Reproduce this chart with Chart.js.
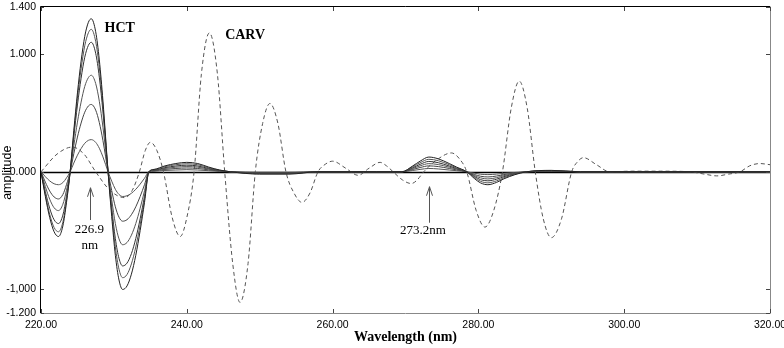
<!DOCTYPE html>
<html><head><meta charset="utf-8">
<script src="https://cdn.jsdelivr.net/npm/chart.js@4.4.0/dist/chart.umd.min.js"></script>
<style>html,body{margin:0;padding:0;background:#fff;}#wrap{width:784px;height:348px;}</style>
</head><body><div id="wrap"><canvas id="c" width="784" height="348"></canvas></div>
<script>
// ---- data ----
const hctWavelengths = [220, 220.6, 221.2, 221.8, 222.4, 223, 223.5, 224, 224.5, 225, 225.5, 226, 226.5, 226.9, 227.5, 228, 228.5, 229.2, 229.7, 230.2, 230.7, 231.2, 231.8, 232.4, 233, 233.6, 234.2, 234.8, 235.5, 237, 238.5, 240, 241.5, 243, 244.5, 246, 250, 254, 258, 266, 269.5, 271, 272, 273.2, 274.5, 276, 277, 278.4, 279.5, 280.3, 281.3, 282.5, 283.5, 285, 286.6, 290, 294, 320];
const hct1 = [0, -0.21, -0.39, -0.51, -0.55, -0.46, -0.26, 0, 0.35, 0.67, 0.94, 1.15, 1.27, 1.30, 1.19, 0.95, 0.60, 0, -0.38, -0.71, -0.92, -1.00, -0.97, -0.87, -0.71, -0.50, -0.26, 0, 0.02, 0.05, 0.07, 0.08, 0.07, 0.04, 0.015, 0, -0.02, -0.02, 0, 0, 0, 0.05, 0.09, 0.125, 0.11, 0.07, 0.04, 0, -0.06, -0.095, -0.11, -0.09, -0.06, -0.025, 0, 0.012, 0, 0];
const hct2 = [0, -0.195, -0.363, -0.474, -0.51, -0.428, -0.242, 0, 0.326, 0.623, 0.874, 1.07, 1.181, 1.21, 1.107, 0.884, 0.558, 0, -0.342, -0.639, -0.828, -0.90, -0.873, -0.783, -0.639, -0.45, -0.234, 0, 0.017, 0.043, 0.06, 0.068, 0.06, 0.034, 0.013, 0, -0.017, -0.017, 0, 0, 0, 0.043, 0.077, 0.106, 0.094, 0.06, 0.034, 0, -0.051, -0.081, -0.094, -0.077, -0.051, -0.021, 0, 0.01, 0, 0];
const hct3 = [0, -0.168, -0.312, -0.408, -0.44, -0.368, -0.208, 0, 0.296, 0.567, 0.795, 0.973, 1.074, 1.10, 1.007, 0.804, 0.508, 0, -0.304, -0.568, -0.736, -0.80, -0.776, -0.696, -0.568, -0.40, -0.208, 0, 0.014, 0.035, 0.049, 0.056, 0.049, 0.028, 0.011, 0, -0.014, -0.014, 0, 0, 0, 0.035, 0.063, 0.088, 0.077, 0.049, 0.028, 0, -0.042, -0.067, -0.077, -0.063, -0.042, -0.018, 0, 0.008, 0, 0];
const hct4 = [0, -0.126, -0.234, -0.306, -0.33, -0.276, -0.156, 0, 0.221, 0.422, 0.592, 0.725, 0.80, 0.82, 0.75, 0.599, 0.378, 0, -0.236, -0.44, -0.57, -0.62, -0.601, -0.539, -0.44, -0.31, -0.161, 0, 0.011, 0.028, 0.039, 0.044, 0.039, 0.022, 0.008, 0, -0.011, -0.011, 0, 0, 0, 0.028, 0.05, 0.069, 0.061, 0.039, 0.022, 0, -0.033, -0.052, -0.061, -0.05, -0.033, -0.014, 0, 0.007, 0, 0];
const hct5 = [0, -0.088, -0.164, -0.214, -0.231, -0.193, -0.109, 0, 0.154, 0.295, 0.414, 0.506, 0.559, 0.572, 0.524, 0.418, 0.264, 0, -0.16, -0.298, -0.386, -0.42, -0.407, -0.365, -0.298, -0.21, -0.109, 0, 0.008, 0.02, 0.028, 0.032, 0.028, 0.016, 0.006, 0, -0.008, -0.008, 0, 0, 0, 0.02, 0.036, 0.05, 0.044, 0.028, 0.016, 0, -0.024, -0.038, -0.044, -0.036, -0.024, -0.01, 0, 0.005, 0, 0];
const hct6 = [0, -0.042, -0.078, -0.102, -0.11, -0.092, -0.052, 0, 0.074, 0.141, 0.197, 0.242, 0.267, 0.273, 0.25, 0.2, 0.126, 0, -0.08, -0.149, -0.193, -0.21, -0.204, -0.183, -0.149, -0.105, -0.055, 0, 0.004, 0.011, 0.015, 0.018, 0.015, 0.009, 0.003, 0, -0.004, -0.004, 0, 0, 0, 0.011, 0.02, 0.028, 0.024, 0.015, 0.009, 0, -0.013, -0.021, -0.024, -0.02, -0.013, -0.006, 0, 0.003, 0, 0];
const carvWavelengths = [220, 222.2, 224.3, 225.9, 227.5, 229.5, 231.5, 232.5, 233.5, 234.3, 235.0, 235.9, 236.8, 238.0, 239.1, 240.0, 241.0, 242.0, 243.1, 244.2, 245.2, 246.3, 247.3, 248.4, 249.4, 250.4, 251.4, 252.5, 253.6, 254.7, 255.8, 256.9, 258.0, 259.0, 260.0, 261.8, 263.5, 265.0, 266.5, 267.4, 268.3, 269.6, 270.8, 271.6, 272.5, 274.5, 276.3, 277.4, 278.4, 279.7, 280.9, 282.1, 283.3, 284.5, 285.6, 286.7, 287.8, 288.9, 290.0, 291.4, 292.8, 293.6, 294.4, 296.2, 298.0, 301, 305, 309, 311, 312.7, 314.3, 315.9, 317.2, 318.6, 320];
const carvValues = [0, 0.15, 0.21, 0.15, 0, -0.16, -0.22, -0.16, 0, 0.18, 0.25, 0.18, 0, -0.39, -0.55, -0.39, 0, 0.83, 1.18, 0.83, 0, -0.78, -1.11, -0.78, 0, 0.41, 0.58, 0.41, 0, -0.18, -0.26, -0.18, 0, 0.064, 0.09, 0.03, -0.03, 0.03, 0.08, 0.05, 0, -0.07, -0.10, -0.07, 0, 0.11, 0.16, 0.11, 0, -0.33, -0.47, -0.33, 0, 0.54, 0.77, 0.54, 0, -0.40, -0.56, -0.40, 0, 0.085, 0.12, 0.06, 0, 0.005, 0.005, 0, -0.02, -0.035, -0.02, 0, 0.05, 0.07, 0.06];
const xTicks = [220, 240, 260, 280, 300, 320];
const xTickLabels = ['220.00', '240.00', '260.00', '280.00', '300.00', '320.00'];
const yTicks = [-1.2, -1.0, 0, 1.0, 1.4];
const yTickLabels = ['-1.200', '-1,000', '0.000', '1.000', '1.400'];
const hctSeries = [hct1, hct2, hct3, hct4, hct5, hct6];

// ---- build datasets ----
const toPts = (xs, ys) => xs.map((x, i) => ({x: x, y: ys[i]}));
const hctColors = ['#222', '#555', '#333', '#555', '#444', '#555'];
const datasets = hctSeries.map((s, i) => ({
  label: 'HCT ' + (i + 1), data: toPts(hctWavelengths, s),
  borderColor: hctColors[i], borderWidth: 1, pointRadius: 0, fill: false,
  cubicInterpolationMode: 'monotone'
}));
datasets.push({
  label: 'CARV', data: toPts(carvWavelengths, carvValues),
  borderColor: '#555', borderWidth: 1, borderDash: [4, 3], pointRadius: 0, fill: false,
  cubicInterpolationMode: 'monotone'
});

const deco = {
  id: 'deco',
  beforeDatasetsDraw(chart) {
    const {ctx, chartArea: a, scales: {y}} = chart;
    const y0 = Math.round(y.getPixelForValue(0)) + 0.5;
    ctx.save();
    ctx.strokeStyle = '#000'; ctx.lineWidth = 1.6;
    ctx.beginPath(); ctx.moveTo(a.left, y0); ctx.lineTo(a.right, y0); ctx.stroke();
    ctx.restore();
  },
  afterDraw(chart) {
    const {ctx, chartArea: a, scales: {x, y}} = chart;
    ctx.save();
    ctx.lineWidth = 1;
    // frame
    ctx.strokeStyle = '#000';
    ctx.beginPath(); ctx.moveTo(a.left - 0.5, a.top - 0.5); ctx.lineTo(a.right, a.top - 0.5); ctx.stroke();
    ctx.beginPath(); ctx.moveTo(a.left - 0.5, a.top - 0.5); ctx.lineTo(a.left - 0.5, a.bottom); ctx.stroke();
    ctx.strokeStyle = '#888';
    ctx.beginPath(); ctx.moveTo(a.left - 0.5, a.bottom + 0.5); ctx.lineTo(a.right + 0.5, a.bottom + 0.5); ctx.stroke();
    ctx.beginPath(); ctx.moveTo(a.right + 0.5, a.top - 0.5); ctx.lineTo(a.right + 0.5, a.bottom + 0.5); ctx.stroke();
    // inward ticks
    ctx.strokeStyle = '#444';
    xTicks.forEach(v => {
      const px = Math.round(x.getPixelForValue(v)) + 0.5;
      ctx.beginPath(); ctx.moveTo(px, a.bottom); ctx.lineTo(px, a.bottom - 4); ctx.stroke();
      ctx.beginPath(); ctx.moveTo(px, a.top); ctx.lineTo(px, a.top + 4); ctx.stroke();
    });
    yTicks.forEach(v => {
      const py = Math.round(y.getPixelForValue(v)) + 0.5;
      ctx.beginPath(); ctx.moveTo(a.left, py); ctx.lineTo(a.left + 3, py); ctx.stroke();
      ctx.beginPath(); ctx.moveTo(a.right, py); ctx.lineTo(a.right - 4, py); ctx.stroke();
    });
    // axis titles
    ctx.fillStyle = '#000';
    ctx.textAlign = 'center'; ctx.textBaseline = 'middle';
    ctx.font = 'bold 14px "Liberation Serif", "Times New Roman", serif';
    ctx.fillText('Wavelength (nm)', (a.left + a.right) / 2, 337);
    ctx.save();
    ctx.translate(8, y.getPixelForValue(0) + 1);
    ctx.rotate(-Math.PI / 2);
    ctx.font = '12.5px "Liberation Sans", Arial, sans-serif';
    ctx.fillText('amplitude', 0, 0);
    ctx.restore();
    // labels
    ctx.font = 'bold 14px "Liberation Serif", "Times New Roman", serif';
    ctx.fillText('HCT', x.getPixelForValue(230.8), y.getPixelForValue(1.215));
    ctx.fillText('CARV', x.getPixelForValue(248.0), y.getPixelForValue(1.155));
    ctx.font = '13px "Liberation Serif", "Times New Roman", serif';
    ctx.fillText('226.9', x.getPixelForValue(226.65), y.getPixelForValue(-0.49));
    ctx.fillText('nm', x.getPixelForValue(226.7), y.getPixelForValue(-0.63));
    ctx.textAlign = 'left';
    ctx.fillText('273.2nm', x.getPixelForValue(269.25), y.getPixelForValue(-0.50));
    // arrows
    ctx.strokeStyle = '#555'; ctx.lineWidth = 1;
    const arrow = (xv, yFrom, yTo) => {
      const px = Math.round(x.getPixelForValue(xv)) + 0.5;
      const pb = y.getPixelForValue(yFrom), pt = y.getPixelForValue(yTo);
      ctx.beginPath(); ctx.moveTo(px, pb); ctx.lineTo(px, pt); ctx.stroke();
      ctx.beginPath(); ctx.moveTo(px - 3, pt + 9); ctx.lineTo(px, pt); ctx.lineTo(px + 3, pt + 9); ctx.stroke();
    };
    arrow(226.75, -0.41, -0.136);
    arrow(273.2, -0.433, -0.127);
    ctx.restore();
  }
};

new Chart(document.getElementById('c'), {
  type: 'line',
  data: {datasets: datasets},
  options: {
    responsive: false, animation: false, devicePixelRatio: 1,
    layout: {padding: {top: 7, right: 14, left: 0, bottom: 0}},
    plugins: {legend: {display: false}, tooltip: {enabled: false}},
    elements: {line: {tension: 0.4}},
    scales: {
      x: {
        type: 'linear', min: 220, max: 320,
        afterBuildTicks: s => { s.ticks = xTicks.map(v => ({value: v})); },
        afterFit: s => { s.height = 35; s.paddingLeft = 0; s.paddingRight = 0; },
        ticks: {
          autoSkip: false, maxRotation: 0, padding: 6, color: '#000',
          font: {family: '"Liberation Sans", Arial, sans-serif', size: 10.5},
          callback: v => xTickLabels[xTicks.indexOf(v)]
        },
        grid: {display: false, drawTicks: false}, border: {display: false}
      },
      y: {
        type: 'linear', min: -1.2, max: 1.4,
        afterBuildTicks: s => { s.ticks = yTicks.map(v => ({value: v})); },
        afterFit: s => { s.width = 41; s.paddingTop = 0; s.paddingBottom = 0; },
        ticks: {
          autoSkip: false, padding: 5, color: '#000',
          font: {family: '"Liberation Sans", Arial, sans-serif', size: 10.5},
          callback: v => yTickLabels[yTicks.indexOf(v)]
        },
        grid: {display: false, drawTicks: false}, border: {display: false}
      }
    }
  },
  plugins: [deco]
});
</script>
</body></html>
